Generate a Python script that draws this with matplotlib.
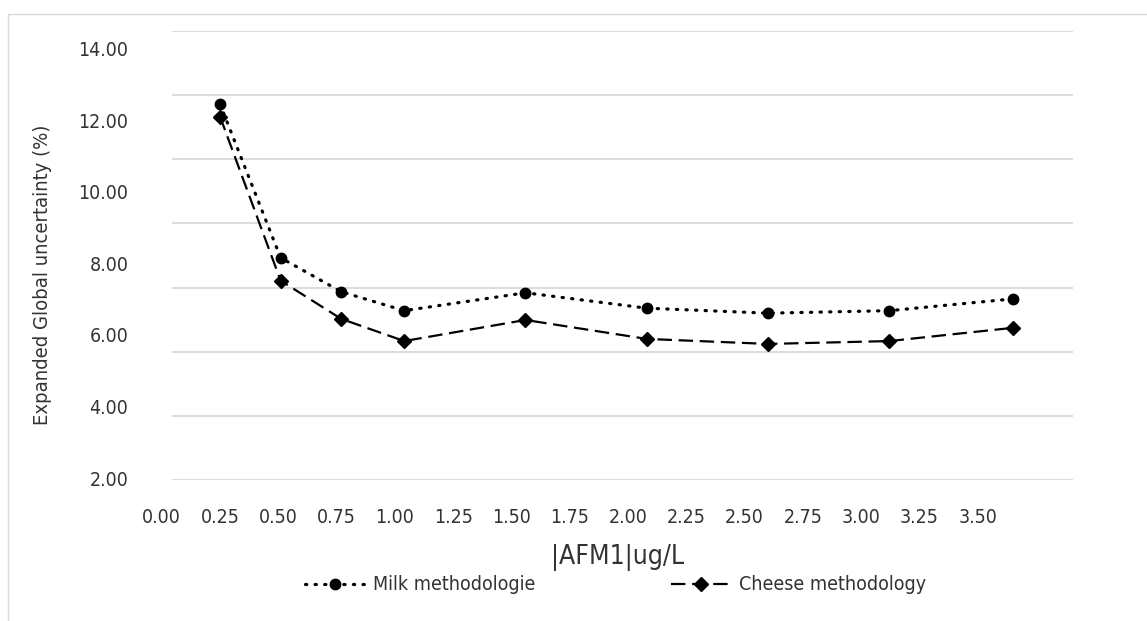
import matplotlib
matplotlib.use("Agg")
import matplotlib.pyplot as plt
import numpy as np
from matplotlib.patches import Rectangle
from matplotlib import font_manager as fm

# ---- data ----
conc = [0.25, 0.51, 0.77, 1.04, 1.56, 2.08, 2.60, 3.12, 3.65]
milk = [12.46, 8.16, 7.21, 6.68, 7.18, 6.75, 6.61, 6.68, 7.01]
cheese = [12.11, 7.52, 6.45, 5.83, 6.42, 5.89, 5.75, 5.83, 6.20]
xticks = [0.00, 0.25, 0.50, 0.75, 1.00, 1.25, 1.50, 1.75, 2.00, 2.25, 2.50, 2.75, 3.00, 3.25, 3.50]
yticks = [2.00, 4.00, 6.00, 8.00, 10.00, 12.00, 14.00]
series_names = ["Milk methodologie", "Cheese methodology"]
xlabel = "|AFM1|ug/L"
ylabel = "Expanded Global uncertainty (%)"

plt.rcParams['font.family'] = ['Liberation Sans Narrow', 'DejaVu Sans']
if any(('DejaVu Sans' == f.name and str(f.stretch) == 'condensed') for f in fm.fontManager.ttflist):
    plt.rcParams['font.stretch'] = 'condensed'
txt = '#333333'

W, H = 1147, 621
fig = plt.figure(figsize=(W / 100, H / 100), dpi=100)
fig.patch.set_facecolor('white')

# outer chart frame
fig.add_artist(Rectangle((8 / W, -0.1), 1.2, 1 - 14 / H + 0.1, transform=fig.transFigure,
                         facecolor='none', edgecolor='#d9d9d9', linewidth=1.0))

left, right, top, bottom = 161.7, 1073, 30.7, 480.3
ax = fig.add_axes([left / W, 1 - bottom / H, (right - left) / W, (bottom - top) / H])

xlim = (0.0, 3.908)
ylim = (1.936, 14.51)
ax.set_xlim(*xlim)
ax.set_ylim(*ylim)

grid_y = np.linspace(ylim[0], ylim[1], 8)
ax.hlines(grid_y, 0.044, xlim[1], colors='#d9d9d9', linewidth=1.3, zorder=0)

ax.plot(conc, milk, color='black', linestyle=(0, (0.4, 2.6)), dash_capstyle='round',
        linewidth=2.3, marker='o', markersize=7.5, label=series_names[0], zorder=3)
ax.plot(conc, cheese, color='black', linestyle=(0, (6.5, 3)), linewidth=1.6,
        marker='D', markersize=7, label=series_names[1], zorder=3)

for s in ax.spines.values():
    s.set_visible(False)

ax.set_xticks(xticks)
ax.set_xticklabels([f"{v:.2f}" for v in xticks])
ax.set_yticks(yticks)
ax.set_yticklabels([f"{v:.2f}" for v in yticks])
ax.tick_params(axis='both', length=0, labelsize=14, colors=txt)
ax.tick_params(axis='y', pad=24)
ax.tick_params(axis='x', pad=20)

ax.set_xlabel(xlabel, fontsize=19, color=txt, labelpad=12)
ax.set_ylabel(ylabel, fontsize=14.5, color=txt)
ax.yaxis.set_label_coords(-0.1204, 0.458)

fig.legend(loc='center', bbox_to_anchor=(0.5366, 1 - 585 / H), ncol=2, frameon=False,
           fontsize=14, handlelength=3.1, columnspacing=7.0, handletextpad=0.4,
           labelcolor=txt)

fig.savefig('out.png', dpi=100)
